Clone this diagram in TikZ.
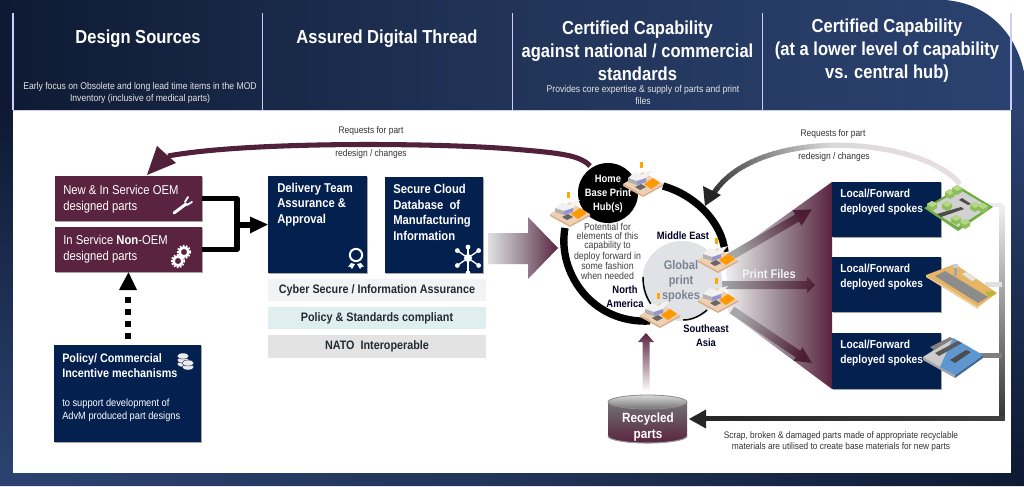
\documentclass[tikz,border=0pt]{standalone}
\usepackage{fontspec}
\setmainfont{Liberation Sans}
\newfontfamily\nar[FakeStretch=0.88]{Liberation Sans}
\usetikzlibrary{shadows,arrows.meta}
\definecolor{maroon}{HTML}{5A2340}
\definecolor{navy}{HTML}{04204F}
\definecolor{dk}{HTML}{0E1A33}
\definecolor{lt}{HTML}{2B4270}
\definecolor{mid}{HTML}{213458}
\definecolor{mauve}{HTML}{9A8A96}
\definecolor{disc}{HTML}{E0E2E6}
\definecolor{gltext}{HTML}{7A8494}
\definecolor{stripa}{HTML}{F2F3F5}
\definecolor{stripb}{HTML}{DFEEEE}
\definecolor{stripc}{HTML}{E3E3E3}
\definecolor{striptext}{HTML}{222A33}
\definecolor{sand}{HTML}{E6B566}
\definecolor{sea}{HTML}{5E97CF}
\definecolor{cityedge}{HTML}{6FAE3C}
\definecolor{citywall}{HTML}{8DBE5A}
\definecolor{citytop}{HTML}{B5D78A}
\definecolor{peach}{HTML}{EFCFB2}
\definecolor{peachd}{HTML}{D9AE8C}
\newcommand{\fs}[2]{\fontsize{#1}{#2}\selectfont\nar}
\tikzset{
  shad/.style={drop shadow={shadow xshift=0.8pt,shadow yshift=-0.8pt,opacity=0.35,fill=black}},
  mbox/.style={fill=maroon,shad},
  nbox/.style={fill=navy,shad},
  hd/.style={text=white,align=center,inner sep=0pt,font=\fs{14.1}{17.2}\bfseries},
  sub/.style={text=white!90!black,align=center,inner sep=0pt,font=\fs{7.35}{9}},
  wt/.style={text=white,align=left,inner sep=0pt,anchor=west,font=\fs{9.6}{11.6}},
  wb/.style={text=white,align=left,inner sep=0pt,anchor=west,font=\fs{9.6}{11.6}\bfseries},
  lab/.style={text=black!80,align=center,inner sep=0pt,font=\fs{7.2}{8.6}},
  bl/.style={text=black!85!blue,align=center,inner sep=0pt,font=\fs{8}{10.2}\bfseries},
  strip/.style={minimum width=163.5pt,minimum height=16.5pt,inner sep=0pt,font=\fs{9.2}{11}\bfseries,text=striptext},
  sep/.style={draw=white!80!blue,line width=0.8pt},
  conn/.style={line width=4pt,line join=round,draw=black},
  pics/factory/.style={code={
    \fill[fill=peachd] (-20,2)--(0,13)--(20,2)--(20,4)--(0,15)--(-20,4)--cycle;
    \fill[fill=peach] (-20,2)--(0,-10)--(20,2)--(0,13)--cycle;
    \fill[fill=orange!80!yellow] (1,2)--(10,-4)--(17,1)--(8,7)--cycle;
    \fill[fill=white!90!gray] (-15,-4)--(-8,-10)--(-1,-7)--(2,-10)--(10,-12)--(3,-4)--(-6,-1)--cycle;
    \fill[fill=gray!60!white] (-15,-4)--(-6,-1)--(-6,3)--(-15,0)--cycle;
    \fill[fill=gray!60!blue!60!white] (-6,-1)--(3,-4)--(3,0)--(-6,3)--cycle;
    \fill[fill=black!60] (-8,5)--(-2,2)--(3,5)--(-3,8)--cycle;
    \fill[fill=orange!70!yellow] (-3,-20)--(0,-20)--(0,-14)--(-3,-14)--cycle;
  }},
}
\begin{document}
\begin{tikzpicture}[x=0.75pt,y=-0.75pt]
\useasboundingbox (0,0) rectangle (1024,486);
% frame
\begin{scope}
\clip (0,0) -- (945,0) .. controls (985,3) and (1015,30) .. (1024,72) -- (1024,486) -- (0,486) -- cycle;
\shade[left color=dk,right color=lt,middle color=mid] (0,0) rectangle (1024,110);
\shade[top color=dk,bottom color=lt] (0,110) rectangle (13,473);
\shade[left color=lt,right color=dk,middle color=mid] (0,473) rectangle (1024,486);
\shade[top color=lt,bottom color=dk] (1011,110) rectangle (1024,473);
\end{scope}
\fill[white] (13,110) rectangle (1011,473);
\foreach \xx in {13,262.5,512.5,762.5,1011}{\draw[sep] (\xx,13) -- (\xx,110);}
\draw[sep,line width=0.5pt] (13,110) -- (1011,110);
% header
\node[hd] (h1) at (138,39) {Design Sources};
\node[hd] (h2) at (387,39) {Assured Digital Thread};
\node[hd] (h3) at (637.5,51) {Certified Capability\\against national / commercial\\standards};
\node[hd] (h4) at (887,51) {Certified Capability\\(at a lower level of capability\\vs. central hub)};
\node[sub] (s1) at (140,93) {Early focus on Obsolete and long lead time items in the MOD\\Inventory (inclusive of medical parts)};
\node[sub] (s3) at (643,95) {Provides core expertise \& supply of parts and print\\files};
% left boxes
\node[mbox,minimum width=110.25pt,minimum height=33.75pt,inner sep=0pt] (oem) at (128.5,198.5) {};
\node[mbox,minimum width=110.25pt,minimum height=33.75pt,inner sep=0pt] (non) at (128.5,249.5) {};
\node[nbox,minimum width=110.25pt,minimum height=72.75pt,inner sep=0pt] (pol) at (127.5,393.5) {};
\node[nbox,minimum width=74.25pt,minimum height=72.75pt,inner sep=0pt] (del) at (317.5,224.5) {};
\node[nbox,minimum width=73.5pt,minimum height=72pt,inner sep=0pt] (sec) at (434,225) {};
\node[wt] (t1) at (63,199) {New \& In Service OEM\\designed parts};
\node[wt] (t2) at (63,249) {In Service \textbf{Non}-OEM\\designed parts};
\node[wb] (t3) at (277,204.5) {Delivery Team\\Assurance \&\\Approval};
\node[wb] (t4) at (393,212.5) {Secure Cloud\\Database\ \ of\\Manufacturing\\Information};
\node[wb,font=\fs{9.2}{11.6}\bfseries] (t5) at (62,365.5) {Policy/ Commercial\\Incentive mechanisms};
\node[wt,font=\fs{7.9}{9.8}] (t6) at (62,410.5) {to support development of\\AdvM produced part designs};
% strips
\node[strip,fill=stripa] (c1) at (377,290) {Cyber Secure / Information Assurance};
\node[strip,fill=stripb] (c2) at (377,318) {Policy \& Standards compliant};
\node[strip,fill=stripc,minimum height=17pt] (c3) at (377,346.5) {NATO\ \ Interoperable};
% connectors
\coordinate (jn) at (237,225);
\draw[conn] (oem.east) -- (237,198.5) -- (237,249.5) -- (non.east);
\draw[line width=4.4pt] (jn) -- (252,225);
\fill[black] (del.west) -- (250,216.5) -- (250,233.5) -- cycle;
\coordinate (pt) at (128,339);
\draw[line width=4.5pt,dash pattern=on 4.5pt off 4.5pt] (pt) -- (128,294);
\fill[black] (non.south) -- (137,290) -- (119,290) -- cycle;
% icons left
\draw[white,line width=2.2pt,line cap=round] (174,213) -- (186,204);
\draw[white,line width=1.4pt,line cap=round] (185,202) -- (188,197) (187,205) -- (192,202);
\foreach \cx/\cy in {184/252,178/261}{
  \draw[white,line width=2pt] (\cx,\cy) circle[radius=3.4pt];
  \draw[white,line width=1.1pt,dash pattern=on 1.2pt off 1.2pt] (\cx,\cy) circle[radius=4.8pt];
}
\draw[white,line width=1.5pt] (356,255) circle[radius=4.6pt];
\fill[white] (351,263) -- (355,264) -- (352,269) -- (350,266.5) -- (348,267) -- cycle;
\fill[white] (361,263) -- (357,264) -- (360,269) -- (362,266.5) -- (364,267) -- cycle;
\foreach \a/\r in {90/15,35/13,-35/13,-90/11,-145/13,145/13}{
  \draw[white,line width=1pt] (468,258) -- ++(\a:\r);
  \fill[white] (468,258) ++(\a:\r) circle[radius=1.8pt];
}
\fill[white] (468,258) circle[radius=3pt];
\foreach \yy in {364,360,356}{\fill[white!85!gray,draw=navy,line width=0.3pt] (183,\yy) ellipse[x radius=6,y radius=3];}
\foreach \yy in {367,363}{\fill[white!85!gray,draw=navy,line width=0.3pt] (188,\yy) ellipse[x radius=6,y radius=3];}
% big arrow
\shade[left color=black!12,right color=maroon,middle color=mauve]
  (488,233) -- (528,233) -- (528,217) -- (558,248) -- (528,279) -- (528,264) -- (488,264) -- cycle;
% top request arrow
\coordinate (topa) at (590,166);
\coordinate (topb) at (168,156);
\draw[line width=3.8pt,draw=maroon!90!black] (topa) .. controls (580,155) and (560,153) .. (512,149) .. controls (440,143) and (250,141) .. (topb);
\fill[maroon!90!black] (147,175) -- (157,146) -- (176,163) -- cycle;
\node[lab] (r1) at (371,131) {Requests for part};
\node[lab] (r2) at (371,154) {redesign / changes};
% fan
\shade[left color=black!6,right color=maroon,middle color=mauve]
  (726,258) -- (832,182) -- (832,389) -- (728,312) -- cycle;
% circle
\draw[line width=5.5pt] (663,186) .. controls (695,195) and (722,222) .. (725,252);
\draw[line width=5.5pt] (565,228) .. controls (557,270) and (590,324) .. (650,321);
\fill[black] (608,193) circle[radius=22.5pt];
\fill[disc] (682,281) circle[radius=30pt];
\draw[line width=1.1pt] (643,277) .. controls (643,288) and (646,297) .. (651,304);
\draw[line width=1.1pt] (683,320) .. controls (692,320) and (700,316) .. (707,310);
% print arrows
\shade[top color=maroon!85!black,bottom color=black!35,shading angle=-60]
  (726,254.5) -- (795,214.5) -- (792.5,210.2) -- (812,209.3) -- (801.5,225.8) -- (799,221.5) -- (730,261.5) -- cycle;
\shade[left color=black!35,right color=maroon!85!black]
  (722,281) -- (807,281) -- (807,277) -- (815,285) -- (807,293) -- (807,289) -- (722,289) -- cycle;
\shade[top color=black!35,bottom color=maroon!85!black,shading angle=60]
  (734.2,306.7) -- (800.2,350.7) -- (802.4,347.3) -- (812,363) -- (793.6,360.7) -- (795.8,357.3) -- (729.8,313.3) -- cycle;
% factories
\foreach \fx/\fy/\fn in {570/212/f1,643/182/f2,718/258/f3,718/298/f4,660/313/f5}{
  \path (\fx,\fy) pic (\fn) {factory};
}
% circle labels
\node[text=white,align=center,inner sep=0pt,font=\fs{8}{10.5}\bfseries] (hub) at (608,194) {Home\\Base Print\\Hub(s)};
\node[lab,text=black!75,font=\fs{7.5}{6.9}] (pot) at (607.5,251) {Potential for\\elements of this\\capability to\\deploy forward in\\some fashion\\when needed};
\node[bl] (me) at (683,236) {Middle East};
\node[bl] (na) at (625,296.5) {North\\America};
\node[bl] (sa) at (706,335.5) {Southeast\\Asia};
\node[align=center,inner sep=0pt,text=gltext,font=\fs{9.4}{11.3}\bfseries] (gl) at (681,281) {Global\\print\\spokes};
\node[text=white!90!gray,inner sep=0pt,font=\fs{9.4}{11}\bfseries] (pf) at (769,274) {Print Files};
% right boxes
\node[nbox,minimum width=81.75pt,minimum height=41.25pt,inner sep=0pt] (l1) at (886.5,209.5) {};
\node[nbox,minimum width=81.75pt,minimum height=41.25pt,inner sep=0pt] (l2) at (886.5,284.5) {};
\node[nbox,minimum width=81.75pt,minimum height=42pt,inner sep=0pt] (l3) at (886.5,361) {};
\tikzset{lf/.style={wb,font=\fs{8.7}{10.6}\bfseries}}
\node[lf] (lt1) at (840,202) {Local/Forward\\deployed spokes};
\node[lf] (lt2) at (840,277) {Local/Forward\\deployed spokes};
\node[lf] (lt3) at (840,353) {Local/Forward\\deployed spokes};
% return line
\shade[top color=black!6,bottom color=black!80] (999.5,205) rectangle (1004.5,420.5);
\fill[black!8] (975,203) rectangle (1002,207);
\fill[black!12] (985,282) rectangle (1002,286.5);
\fill[black!50] (980,353) rectangle (1002,357.5);
\shade[left color=black!85,right color=black!75] (706,416.5) rectangle (1004.5,420.5);
\fill[black!85] (689,419) -- (706,409.5) -- (706,428.5) -- cycle;
% right curved arrow
\foreach \i in {0,...,59}{
  \pgfmathsetmacro{\ta}{\i/60}
  \pgfmathsetmacro{\tb}{(\i+1.3)/60}
  \pgfmathsetmacro{\xa}{(1-\ta)^3*960+3*(1-\ta)^2*\ta*920+3*(1-\ta)*\ta^2*750+\ta^3*711}
  \pgfmathsetmacro{\ya}{(1-\ta)^3*184+3*(1-\ta)^2*\ta*135+3*(1-\ta)*\ta^2*125+\ta^3*198}
  \pgfmathsetmacro{\xb}{(1-\tb)^3*960+3*(1-\tb)^2*\tb*920+3*(1-\tb)*\tb^2*750+\tb^3*711}
  \pgfmathsetmacro{\yb}{(1-\tb)^3*184+3*(1-\tb)^2*\tb*135+3*(1-\tb)*\tb^2*125+\tb^3*198}
  \pgfmathsetmacro{\mixa}{\ta<0.5 ? 100*(1-(\ta/0.5)^2) : 0}
  \pgfmathsetmacro{\pc}{\ta<0.5 ? 15 : 15+70*(\ta-0.5)/0.5}
  \ifdim\ta pt<0.5pt
    \colorlet{curcol}{maroon!\mixa!black!15}
  \else
    \colorlet{curcol}{black!\pc}
  \fi
  \draw[curcol,line width=3.8pt] (\xa,\ya) -- (\xb,\yb);
}
\fill[black!85] (705,206) -- (703,186) -- (721,195) -- cycle;
\node[lab] (r3) at (833,134) {Requests for part};
\node[lab] (r4) at (834,157) {redesign / changes};
% city
\fill[cityedge] (924,208) -- (960,187) -- (993,207) -- (958,231) -- cycle;
\fill[black!18] (928,208) -- (960,190) -- (989,207) -- (958,227) -- cycle;
\fill[black!70] (937,214) -- (961,207) -- (964,209) -- (941,217) -- cycle;
\fill[black!70] (962,198) -- (971,204) -- (968,205) -- (959,200) -- cycle;
\foreach \bx/\by in {932/204,950/192,957/188,975/205,983/206,956/218,965/222,947/204}{
  \fill[citywall] (\bx-5,\by) -- (\bx,\by-3) -- (\bx+5,\by) -- (\bx+5,\by+4) -- (\bx,\by+7) -- (\bx-5,\by+4) -- cycle;
  \fill[citytop] (\bx-5,\by) -- (\bx,\by-3) -- (\bx+5,\by) -- (\bx,\by+3) -- cycle;
}
% airfield
\fill[sand] (926,275) -- (955,264) -- (997,293) -- (978,307) -- cycle;
\fill[sand!70!white] (926,275) -- (978,307) -- (978,309) -- (926,277) -- cycle;
\fill[black!45] (935,276) -- (945,271) -- (988,297) -- (978,303) -- cycle;
\fill[white!80!gray] (962,274) -- (966,272) -- (976,279) -- (972,281) -- cycle;
\fill[black!35] (954,268) rectangle (957,276);
\fill[black!20] (953,264) rectangle (958,268);
\fill[yellow!70!black] (985,292) -- (994,291) -- (996,294) -- (988,297) -- cycle;
% port
\fill[black!35] (923,357) -- (955,375) -- (955,378) -- (923,360) -- cycle;
\fill[sea!70!black] (955,375) -- (983,355) -- (983,358) -- (955,378) -- cycle;
\fill[black!20] (923,357) -- (953,338) -- (970,347) -- (940,367) -- cycle;
\fill[sea] (953,338) -- (983,355) -- (955,375) -- (940,367) -- cycle;
\fill[black!65] (935,353) -- (958,341) -- (962,343) -- (939,356) -- cycle;
\fill[black!70] (950,360) -- (966,350) -- (971,352) -- (955,363) -- cycle;
\fill[black!50] (930,347) -- (950,337) -- (953,339) -- (934,350) -- cycle;
% recycled
\shade[top color=black!55,middle color=navy!90!black,bottom color=maroon] (608,402) -- (608,436) arc[start angle=180,end angle=0,x radius=39.5,y radius=7] -- (687,402) -- cycle;
\draw[black!40,line width=0.8pt] (608,436) arc[start angle=180,end angle=0,x radius=39.5,y radius=7];
\shade[top color=black!15,bottom color=black!55] (647.5,402) ellipse[x radius=39.5,y radius=7];
\draw[black!45,line width=0.6pt] (647.5,402) ellipse[x radius=39.5,y radius=7];
\node[text=white,align=center,inner sep=0pt,font=\fs{10}{12}\bfseries] (rec) at (648,427) {Recycled\\parts};
% up arrow
\shade[top color=maroon,bottom color=white] (642.5,392) -- (642.5,342) -- (638,342) -- (646,333) -- (654,342) -- (649.5,342) -- (649.5,392) -- cycle;
\node[lab,font=\fs{7.1}{8.4}] (scrap) at (841,441.5) {Scrap, broken \& damaged parts made of appropriate recyclable\\materials are utilised to create base materials for new parts};
\end{tikzpicture}
\end{document}
